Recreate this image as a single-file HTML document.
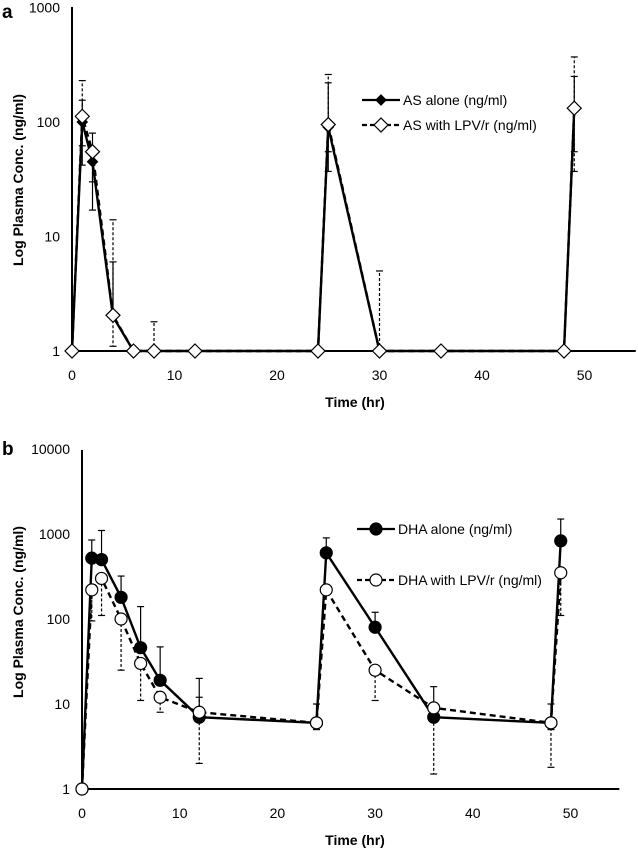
<!DOCTYPE html>
<html><head><meta charset="utf-8"><style>
body{margin:0;background:#fff}
svg{display:block;font-family:"Liberation Sans",Arial,sans-serif}
</style></head><body>
<svg id="chart" width="638" height="849" viewBox="0 0 638 849"></svg>
<script>
const times = [0,1,2,4,6,8,12,24,25,30,36,48,49];
const asAlone = [1,100,45,2,1,1,1,1,90,1,1,1,130];
const asLpv = [1,112,55,2.05,1,1,1,1,95,1,1,1,132];
const asAloneUpper = [null,155,80,6,null,null,null,null,220,null,null,null,250];
const asAloneLower = [null,42,17,null,null,null,null,null,37,null,null,null,55];
const asLpvUpper = [null,230,null,14,null,1.8,null,null,260,5,null,null,370];
const asLpvLower = [null,62,30,1.1,null,null,null,null,55,null,null,null,37];
const dhaAlone = [1,520,500,180,46,19,7,6,600,80,7,6,830];
const dhaLpv = [1,220,300,100,30,12,8,6,220,25,9,6,350];
const dhaAloneUpper = [null,850,1100,320,140,47,20,10,900,120,16,10,1500];
const dhaAloneLower = [null,null,null,null,null,null,null,5,null,null,null,5,null];
const dhaLpvUpper = [null,null,null,null,null,null,12,null,null,null,null,null,null];
const dhaLpvLower = [null,95,110,25,11,8,2,null,null,11,1.5,1.8,110];
const xTicks = [0,10,20,30,40,50];
const aYTicks = [1,10,100,1000];
const bYTicks = [1,10,100,1000,10000];

const svg = document.getElementById('chart');
const NS = 'http://www.w3.org/2000/svg';
function mk(tag, attrs, parent){const e=document.createElementNS(NS,tag);for(const k in attrs)e.setAttribute(k,attrs[k]);(parent||svg).appendChild(e);return e;}

function panel(cfg){
  const g = mk('g',{});
  
  
  const X = t => cfg.x0 + t*cfg.xs;
  const Y = v => cfg.y1 - Math.log10(v)*cfg.ys;
  // axes
  const ya = mk('line',{x1:cfg.x0,y1:cfg.yTop,x2:cfg.x0,y2:cfg.y1,stroke:'#000','stroke-width':2},g);
   
  const xa = mk('line',{x1:cfg.x0,y1:cfg.y1,x2:X(55),y2:cfg.y1,stroke:'#000','stroke-width':2},g);
   
  cfg.yTicks.forEach(v=>{
    const t = mk('text',{x:cfg.x0-12,y:Y(v)+5,'text-anchor':'end','font-size':14},g);
    t.textContent = v;
     
  });
  xTicks.forEach(v=>{
    const t = mk('text',{x:X(v),y:cfg.y1+29,'text-anchor':'middle','font-size':14},g);
    t.textContent = v;
     
  });
  const yt = mk('text',{x:0,y:0,'text-anchor':'middle','font-size':14,'font-weight':'bold',transform:`translate(${cfg.yTitleX},${cfg.yTitleY}) rotate(-90)`},g);
  yt.textContent='Log Plasma Conc. (ng/ml)';
   
  const xt = mk('text',{x:355,y:cfg.y1+56,'text-anchor':'middle','font-size':14,'font-weight':'bold'},g);
  xt.textContent='Time (hr)';
   
  const pl = mk('text',{x:2,y:cfg.labelY,'font-size':19,'font-weight':'bold'},g);
  pl.textContent=cfg.label;
   

  // error bars
  function err(vals, arr, dash){
    arr.forEach((e,i)=>{
      if(e==null) return;
      const x=X(times[i]);
      const l=mk('line',{x1:x,y1:Y(vals[i]),x2:x,y2:Y(e),stroke:'#000','stroke-width':1.2},g);
      if(dash) l.setAttribute('stroke-dasharray','3,2');
       
      const c=mk('line',{x1:x-3.5,y1:Y(e),x2:x+3.5,y2:Y(e),stroke:'#000','stroke-width':1.2},g);
       
    });
  }
  err(cfg.s1, cfg.s1u, false); err(cfg.s1, cfg.s1l, false);
  err(cfg.s2, cfg.s2u, true); err(cfg.s2, cfg.s2l, true);

  function series(vals, dash, filled, sname){
    const p = mk('polyline',{points:vals.map((v,i)=>X(times[i])+','+Y(v)).join(' '),fill:'none',stroke:'#000','stroke-width':2.4},g);
    if(dash) p.setAttribute('stroke-dasharray','6,4');
     
    vals.forEach((v,i)=>{
      const m = marker(X(times[i]),Y(v),filled,g);
       
    });
  }
  function marker(x,y,filled,parent){
    if(cfg.shape==='diamond'){
      const s=filled?5:7;
      return mk('polygon',{points:`${x},${y-s} ${x+s},${y} ${x},${y+s} ${x-s},${y}`,fill:filled?'#000':'#fff',stroke:'#000','stroke-width':1.2},parent);
    }
    return mk('circle',{cx:x,cy:y,r:6,fill:filled?'#000':'#fff',stroke:'#000','stroke-width':1.2},parent);
  }
  series(cfg.s1,false,true,cfg.n1);
  series(cfg.s2,true,false,cfg.n2);

  // legend
  cfg.legend.forEach((L,k)=>{
    const lg = mk('g',{},g);
     
    const ln=mk('line',{x1:L.x,y1:L.y,x2:L.x+38,y2:L.y,stroke:'#000','stroke-width':2.2},lg);
    if(k===1) ln.setAttribute('stroke-dasharray','5,3');
    marker(L.x+19,L.y,k===0,lg);
    const t=mk('text',{x:L.x+41,y:L.y+5,'font-size':14},lg);
    t.textContent=L.text;
  });
}

panel({name:'panel-a',label:'a',labelY:18,x0:72,xs:10.25,y1:351,yTop:7,ys:114.5,yTicks:aYTicks,
  yTitleX:23,yTitleY:180,shape:'diamond',
  s1:asAlone,s2:asLpv,s1u:asAloneUpper,s1l:asAloneLower,s2u:asLpvUpper,s2l:asLpvLower,
  n1:'as-alone',n2:'as-with-lpv',
  legend:[{x:362,y:100,text:'AS alone (ng/ml)'},{x:362,y:125,text:'AS with LPV/r (ng/ml)'}]});
panel({name:'panel-b',label:'b',labelY:455,x0:82,xs:9.77,y1:789,yTop:450,ys:85,yTicks:bYTicks,
  yTitleX:23,yTitleY:612,shape:'circle',
  s1:dhaAlone,s2:dhaLpv,s1u:dhaAloneUpper,s1l:dhaAloneLower,s2u:dhaLpvUpper,s2l:dhaLpvLower,
  n1:'dha-alone',n2:'dha-with-lpv',
  legend:[{x:357,y:529,text:'DHA alone (ng/ml)'},{x:357,y:580,text:'DHA with LPV/r (ng/ml)'}]});
</script>
</body></html>
